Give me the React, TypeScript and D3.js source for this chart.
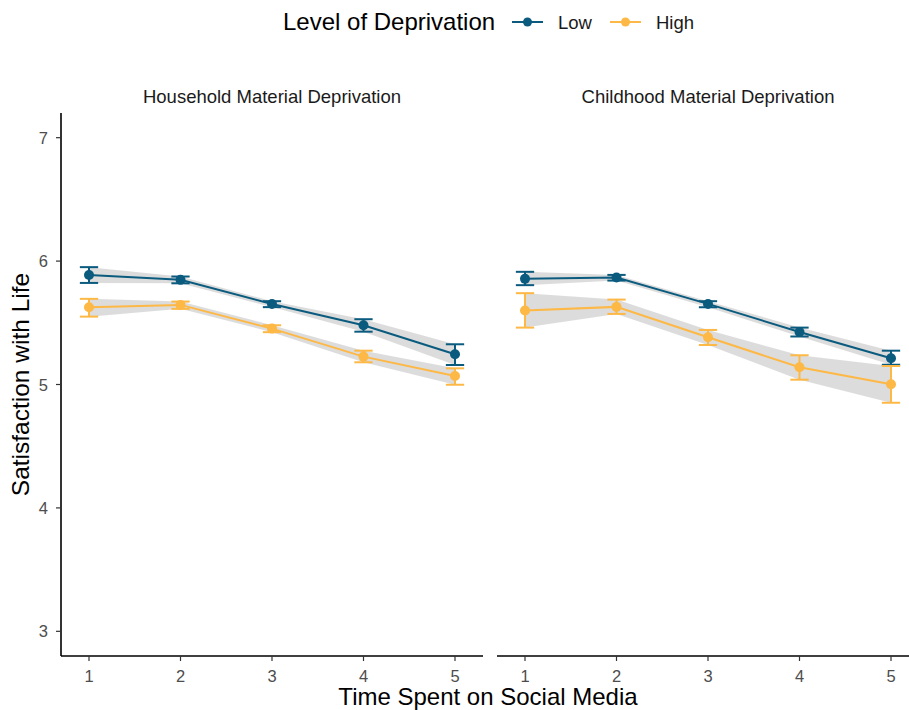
import React from "react";
import * as d3 from "d3";

const panels = ["Household Material Deprivation", "Childhood Material Deprivation"];
const groups = ["Low", "High"];
const xTicks = [1, 2, 3, 4, 5];
const yTicks = [3, 4, 5, 6, 7];

// values per panel, per group
const householdLow = [5.888, 5.848, 5.653, 5.48, 5.245];
const householdLowLo = [5.823, 5.82, 5.627, 5.428, 5.158];
const householdLowHi = [5.951, 5.875, 5.675, 5.529, 5.326];
const householdHigh = [5.626, 5.645, 5.453, 5.226, 5.069];
const householdHighLo = [5.55, 5.613, 5.424, 5.18, 4.998];
const householdHighHi = [5.694, 5.672, 5.48, 5.274, 5.131];

const childhoodLow = [5.856, 5.867, 5.653, 5.426, 5.213];
const childhoodLowLo = [5.805, 5.842, 5.626, 5.389, 5.16];
const childhoodLowHi = [5.913, 5.888, 5.675, 5.461, 5.274];
const childhoodHigh = [5.599, 5.629, 5.383, 5.14, 5.002];
const childhoodHighLo = [5.461, 5.572, 5.32, 5.039, 4.852];
const childhoodHighHi = [5.74, 5.688, 5.442, 5.237, 5.15];

const colors: Record<string, string> = { Low: "#0b5b7f", High: "#fdb846" };

type Series = { group: string; mean: number[]; lo: number[]; hi: number[] };
const panelData: Series[][] = [
  [
    { group: "Low", mean: householdLow, lo: householdLowLo, hi: householdLowHi },
    { group: "High", mean: householdHigh, lo: householdHighLo, hi: householdHighHi },
  ],
  [
    { group: "Low", mean: childhoodLow, lo: childhoodLowLo, hi: childhoodLowHi },
    { group: "High", mean: childhoodHigh, lo: childhoodHighLo, hi: childhoodHighHi },
  ],
];

const W = 909;
const H = 710;
const panelLeft = [61, 497];
const panelWidth = 422;
const top = 113;
const bottom = 656;
const FONT = "'Liberation Sans', Arial, sans-serif";

export default function App() {
  const y = d3.scaleLinear().domain([2.8, 7.2]).range([bottom, top]);
  return (
    <svg width={W} height={H} style={{ position: "absolute", left: 0, top: 0, background: "#fff" }} fontFamily={FONT}>
      {/* legend */}
      <g>
        <text x={283} y={30} fontSize={24} fill="#000">Level of Deprivation</text>
        {groups.map((g, i) => {
          const kx = [512, 610][i];
          return (
            <g key={g}>
              <line x1={kx} x2={kx + 31} y1={22} y2={22} stroke={colors[g]} strokeWidth={2} />
              <circle cx={kx + 15.5} cy={22} r={4.5} fill={colors[g]} />
              <text x={kx + 46} y={28.5} fontSize={18.5} fill="#1a1a1a">{g}</text>
            </g>
          );
        })}
      </g>
      {panels.map((p, pi) => {
        const x = d3.scaleLinear().domain([0.694, 5.306]).range([panelLeft[pi], panelLeft[pi] + panelWidth]);
        const cap = x(1.1) - x(1);
        return (
          <g key={p}>
            <text x={(x.range()[0] + x.range()[1]) / 2} y={102.5} textAnchor="middle" fontSize={18.5} fill="#1a1a1a">{p}</text>
            {panelData[pi].map((s) => {
              const area = d3
                .area<number>()
                .x((_, i) => x(xTicks[i]))
                .y0((_, i) => y(s.lo[i]))
                .y1((_, i) => y(s.hi[i]));
              return (
                <path key={"r" + s.group} d={area(s.mean) || ""} fill="#bfbfbf" fillOpacity={0.55} />
              );
            })}
            {panelData[pi].map((s) => {
              const line = d3
                .line<number>()
                .x((_, i) => x(xTicks[i]))
                .y((d) => y(d));
              return (
                <g key={s.group}>
                  <path d={line(s.mean) || ""} fill="none" stroke={colors[s.group]} strokeWidth={2} />
                  {s.mean.map((m, i) => (
                    <g key={i} stroke={colors[s.group]} strokeWidth={2}>
                      <line x1={x(xTicks[i])} x2={x(xTicks[i])} y1={y(s.lo[i])} y2={y(s.hi[i])} />
                      <line x1={x(xTicks[i]) - cap} x2={x(xTicks[i]) + cap} y1={y(s.lo[i])} y2={y(s.lo[i])} />
                      <line x1={x(xTicks[i]) - cap} x2={x(xTicks[i]) + cap} y1={y(s.hi[i])} y2={y(s.hi[i])} />
                      <circle cx={x(xTicks[i])} cy={y(m)} r={5} fill={colors[s.group]} stroke="none" />
                    </g>
                  ))}
                </g>
              );
            })}
            {/* x axis */}
            <line x1={x.range()[0]} x2={x.range()[1]} y1={bottom} y2={bottom} stroke="#000" strokeWidth={1.6} />
            {xTicks.map((t) => (
              <g key={t}>
                <line x1={x(t)} x2={x(t)} y1={bottom} y2={bottom + 5} stroke="#333" strokeWidth={1.2} />
                <text x={x(t)} y={681.5} textAnchor="middle" fontSize={16.5} fill="#4d4d4d">{t}</text>
              </g>
            ))}
            {pi === 0 && (
              <g>
                <line x1={x.range()[0]} x2={x.range()[0]} y1={top} y2={bottom} stroke="#000" strokeWidth={1.6} />
                {yTicks.map((t) => (
                  <g key={t}>
                    <line x1={x.range()[0] - 5} x2={x.range()[0]} y1={y(t)} y2={y(t)} stroke="#333" strokeWidth={1.2} />
                    <text x={x.range()[0] - 13} y={y(t) + 6} textAnchor="end" fontSize={16.5} fill="#4d4d4d">{t}</text>
                  </g>
                ))}
              </g>
            )}
          </g>
        );
      })}
      <text x={488} y={705} textAnchor="middle" fontSize={24} fill="#000">Time Spent on Social Media</text>
      <text transform={`translate(29,${(top + bottom) / 2}) rotate(-90)`} textAnchor="middle" fontSize={24.5} fill="#000">Satisfaction with Life</text>
    </svg>
  );
}
